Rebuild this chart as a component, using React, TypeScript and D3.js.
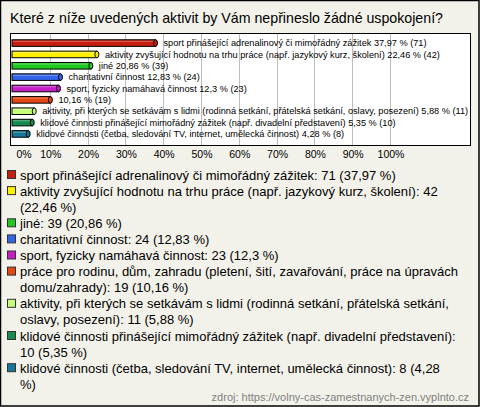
import React from "react";
import * as d3 from "d3";

const title = "Které z níže uvedených aktivit by Vám nepřineslo žádné uspokojení?";
const categories = [
  "sport přinášející adrenalinový či mimořádný zážitek",
  "aktivity zvyšující hodnotu na trhu práce (např. jazykový kurz, školení)",
  "jiné",
  "charitativní činnost",
  "sport, fyzicky namáhavá činnost",
  "práce pro rodinu, dům, zahradu (pletení, šití, zavařování, práce na úpravách domu/zahrady)",
  "aktivity, při kterých se setkávám s lidmi (rodinná setkání, přátelská setkání, oslavy, posezení)",
  "klidové činnosti přinášející mimořádný zážitek (např. divadelní představení)",
  "klidové činnosti (četba, sledování TV, internet, umělecká činnost)",
];
const barLabels = [
  "sport přinášející adrenalinový či mimořádný zážitek",
  "aktivity zvyšující hodnotu na trhu práce (např. jazykový kurz, školení)",
  "jiné",
  "charitativní činnost",
  "sport, fyzicky namáhavá činnost",
  "",
  "aktivity, při kterých se setkávám s lidmi (rodinná setkání, přátelská setkání, oslavy, posezení)",
  "klidové činnosti přinášející mimořádný zážitek (např. divadelní představení)",
  "klidové činnosti (četba, sledování TV, internet, umělecká činnost)",
];
const counts = [71, 42, 39, 24, 23, 19, 11, 10, 8];
const percents = [37.97, 22.46, 20.86, 12.83, 12.3, 10.16, 5.88, 5.35, 4.28];
const percentText = ["37,97", "22,46", "20,86", "12,83", "12,3", "10,16", "5,88", "5,35", "4,28"];
const colors = ["#c81e0f", "#fff000", "#1ec81e", "#3264e6", "#c81ec8", "#e6460f", "#c8ff78", "#148c50", "#147896"];
const tickValues = [0, 10, 20, 30, 40, 50, 60, 70, 80, 90, 100];
const legendLines: string[][] = [
  ["sport přinášející adrenalinový či mimořádný zážitek: 71 (37,97 %)"],
  ["aktivity zvyšující hodnotu na trhu práce (např. jazykový kurz, školení): 42", "(22,46 %)"],
  ["jiné: 39 (20,86 %)"],
  ["charitativní činnost: 24 (12,83 %)"],
  ["sport, fyzicky namáhavá činnost: 23 (12,3 %)"],
  ["práce pro rodinu, dům, zahradu (pletení, šití, zavařování, práce na úpravách", "domu/zahrady): 19 (10,16 %)"],
  ["aktivity, při kterých se setkávám s lidmi (rodinná setkání, přátelská setkání,", "oslavy, posezení): 11 (5,88 %)"],
  ["klidové činnosti přinášející mimořádný zážitek (např. divadelní představení):", "10 (5,35 %)"],
  ["klidové činnosti (četba, sledování TV, internet, umělecká činnost): 8 (4,28", "%)"],
];
const source = "zdroj: https://volny-cas-zamestnanych-zen.vyplnto.cz";

export default function App() {
  const W = 480, H = 407;
  const x = d3.scaleLinear().domain([0, 100]).range([12, 390]);
  const y = d3.scaleBand<number>().domain(d3.range(categories.length)).range([35, 142]).padding(0.42);
  const font = "'Liberation Sans', Arial, sans-serif";
  const bh = y.bandwidth();
  let line = 0;
  const lineH = 16.1;
  const legendTop = 175;
  return (
    <svg width={W} height={H} style={{ position: "absolute", left: 0, top: 0 }} fontFamily={font}>
      <rect x={0.5} y={0.5} width={W - 1.5} height={H - 1.5} fill="#f3f2ea" stroke="#000" strokeWidth={1.5} />
      <text x={10} y={23} fontSize={14.2} fill="#000">{title}</text>
      <rect x={10.5} y={33.5} width={460} height={112} fill="#fff" stroke="#000" strokeWidth={1} />
      {tickValues.slice(1).map((t) => (
        <line key={t} x1={Math.round(x(t)) + 0.5} x2={Math.round(x(t)) + 0.5} y1={34} y2={145} stroke="#bdbdbd" strokeWidth={1} />
      ))}
      {percents.map((p, i) => {
        const y0 = y(i)!;
        const x1 = x(p);
        const cy = y0 + bh / 2;
        const lab = (barLabels[i] ? barLabels[i] + " " : "") + percentText[i] + " % (" + counts[i] + ")";
        return (
          <g key={i}>
            <rect x={x(0)} y={y0} width={x1 - x(0)} height={bh} fill={colors[i]} stroke="#000" strokeWidth={1} />
            <line x1={x(0) + 1} x2={x1 - 1} y1={y0 + 1.5} y2={y0 + 1.5} stroke="#fff" strokeOpacity={0.35} strokeWidth={1} />
            <ellipse cx={x1} cy={cy} rx={2} ry={bh / 2} fill={colors[i]} stroke="#000" strokeWidth={1} />
            <text x={x1 + 8} y={cy} dy="0.35em" fontSize={9.2} fill="#000">{lab}</text>
          </g>
        );
      })}
      {tickValues.map((t) => (
        <text key={t} x={t === 0 ? x(t) + 12 : x(t) + 1} y={158} textAnchor="middle" fontSize={10.5} fill="#000">{t}%</text>
      ))}
      {legendLines.map((ls, i) => {
        const start = line;
        line += ls.length;
        const yy = legendTop + start * lineH;
        return (
          <g key={i}>
            <rect x={7.5} y={yy - 4.5} width={8} height={8} fill={colors[i]} stroke="#333" strokeWidth={1} />
            {ls.map((s, j) => (
              <text key={j} x={20} y={yy + j * lineH} dy="0.35em" fontSize={13} fill="#000">{s}</text>
            ))}
          </g>
        );
      })}
      <text x={469} y={397} dy="0.35em" textAnchor="end" fontSize={11} fill="#808080">{source}</text>
    </svg>
  );
}
